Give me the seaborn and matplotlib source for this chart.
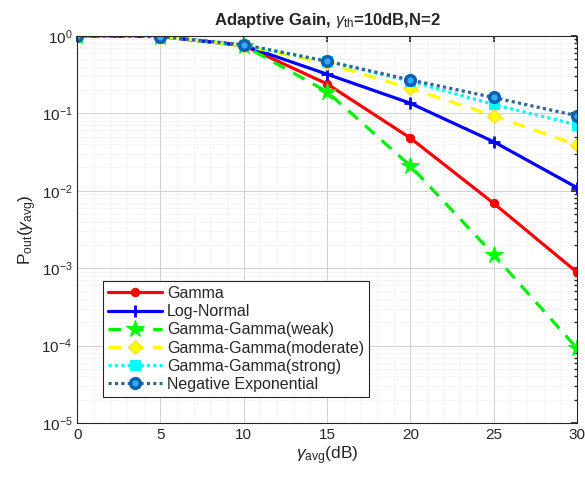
import matplotlib
matplotlib.use("Agg")
import matplotlib.pyplot as plt
import seaborn as sns
import numpy as np
import pandas as pd
from matplotlib.ticker import LogLocator, NullFormatter

sns.set_theme(style="white")
plt.rcParams['font.family'] = ['Liberation Sans', 'DejaVu Sans']
plt.rcParams['mathtext.fontset'] = 'custom'
plt.rcParams['mathtext.rm'] = 'Liberation Sans'
plt.rcParams['mathtext.it'] = 'Liberation Sans:italic'

snr_db = [0, 5, 10, 15, 20, 25, 30]
gamma = [1.0, 0.98, 0.75, 0.24, 0.048, 0.0069, 0.00089]
log_normal = [1.0, 0.98, 0.75, 0.32, 0.135, 0.043, 0.011]
gg_weak = [1.0, 0.98, 0.75, 0.19, 0.021, 0.0015, 0.000093]
gg_moderate = [1.0, 0.98, 0.75, 0.44, 0.21, 0.093, 0.039]
gg_strong = [1.0, 0.98, 0.76, 0.47, 0.26, 0.13, 0.071]
neg_exp = [1.0, 0.98, 0.77, 0.47, 0.27, 0.16, 0.093]

labels = ["Gamma", "Log-Normal", "Gamma-Gamma(weak)", "Gamma-Gamma(moderate)",
          "Gamma-Gamma(strong)", "Negative Exponential"]
series = [gamma, log_normal, gg_weak, gg_moderate, gg_strong, neg_exp]
styles = [
    dict(color="#ff0000", linestyle="-", marker="o", markersize=6, mfc="#ff0000", mec="#ff0000"),
    dict(color="#0000ff", linestyle="-", marker="+", markersize=8, mfc="#0000ff", mec="#0000ff", mew=2),
    dict(color="#00ee00", linestyle=(0, (4, 3)), marker="*", markersize=13, mfc="#00ff00", mec="#00ff00"),
    dict(color="#ffff00", linestyle=(0, (4, 3)), marker="D", markersize=7, mfc="#ffff00", mec="#ffdd00"),
    dict(color="#00ffff", linestyle=(0, (1, 1)), marker="s", markersize=7, mfc="#00ffff", mec="#00ffff"),
    dict(color="#336699", linestyle=(0, (1, 1)), marker="o", markersize=7, mfc="#33aaff", mec="#1060b0", mew=2.5),
]

fig = plt.figure(figsize=(5.85, 4.78), dpi=100)
ax = fig.add_axes([0.132, 0.115, 0.854, 0.81])

for lab, vals, st in zip(labels, series, styles):
    df = pd.DataFrame({"x": snr_db, "y": vals})
    sns.lineplot(data=df, x="x", y="y", ax=ax, label=lab, linewidth=2.3, **st)

ax.set_yscale("log")
ax.set_xlim(0, 30)
ax.set_ylim(1e-5, 1)
ax.set_xticks([0, 5, 10, 15, 20, 25, 30])
ax.yaxis.set_major_locator(LogLocator(base=10, numticks=10))
ax.yaxis.set_minor_locator(LogLocator(base=10, subs=np.arange(2, 10), numticks=10))
ax.yaxis.set_minor_formatter(NullFormatter())
ax.set_xticks(np.arange(0, 31, 1), minor=True)
ax.grid(True, which="major", color="#d0d0d0", linewidth=0.7)
ax.grid(True, which="minor", color="#e6e6e6", linewidth=0.5, linestyle=(0, (1, 1)))
ax.tick_params(which="both", direction="in", top=True, right=True, labelsize=11, colors="#262626")
ax.tick_params(which="minor", length=2, bottom=False, top=False)
ax.tick_params(which="major", length=4)
for s in ax.spines.values():
    s.set_color("#262626")
    s.set_linewidth(0.8)

ax.set_xlabel(r"$\gamma_{\rm avg}$(dB)", fontsize=12.5, labelpad=2)
ax.set_ylabel(r"P$_{\rm out}$($\gamma_{\rm avg}$)", fontsize=12.5, labelpad=2)
ax.set_title(r"Adaptive Gain, $\gamma_{\rm th}$=10dB,N=2", fontsize=12, fontweight="bold", pad=8)

leg = ax.legend(loc="lower left", bbox_to_anchor=(0.052, 0.068), fontsize=11.5, frameon=True,
                fancybox=False, edgecolor="#262626", framealpha=1, handlelength=3.4,
                borderaxespad=0, labelspacing=0.2, handletextpad=0.3, borderpad=0.3)
leg.get_frame().set_linewidth(0.8)

fig.savefig("out.png", dpi=100)
